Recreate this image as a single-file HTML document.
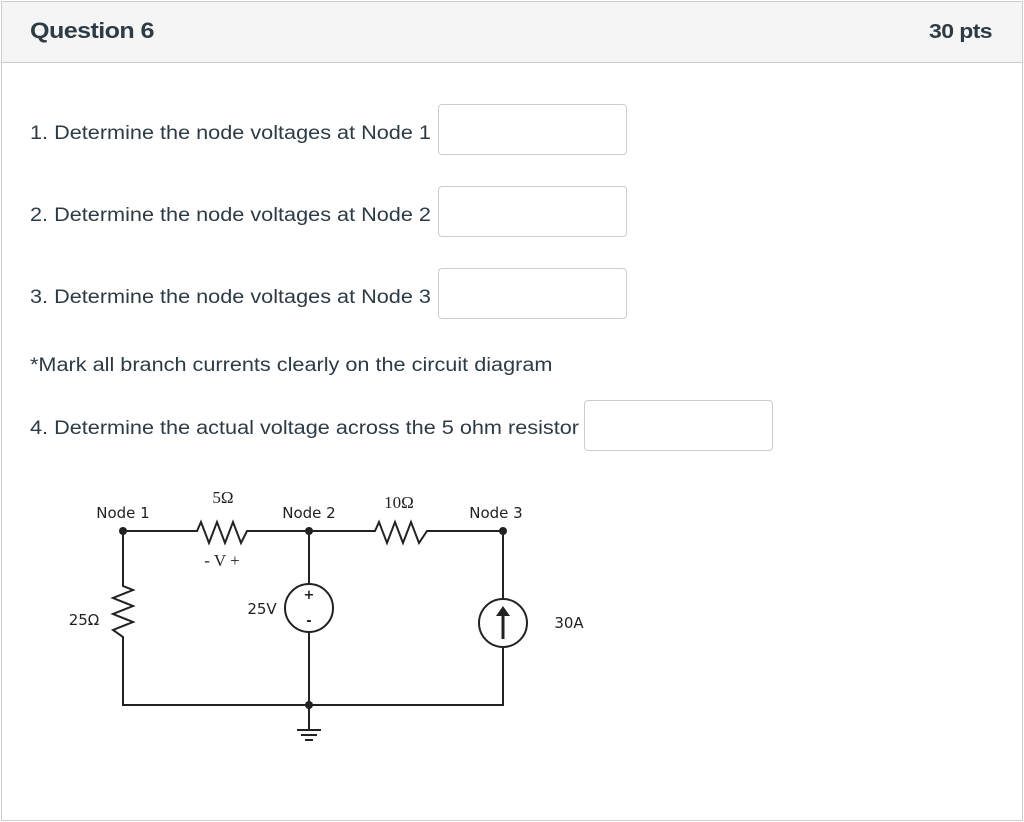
<!DOCTYPE html>
<html><head><meta charset="utf-8"><style>
body{margin:0;background:#fff;font-family:"Liberation Sans",sans-serif;}
.wrap{position:absolute;left:1px;top:1px;width:1020px;height:818px;border:1px solid #c7cdd1;}
.hdr{position:absolute;left:0;top:0;width:1020px;height:60px;background:#f5f5f5;border-bottom:1px solid #c7cdd1;}
.t{position:absolute;color:#2d3b45;white-space:nowrap;transform-origin:0 0;transform:scaleX(1.14);}
.box{position:absolute;border:1px solid #c7cdd1;border-radius:4px;background:#fff;}
</style></head><body>
<div class="wrap">
<div class="hdr"></div>
</div>
<div class="t" style="left:30px;top:18px;font-size:22px;font-weight:bold;letter-spacing:-0.5px">Question 6</div>
<div class="t" style="left:929px;top:21px;font-size:20px;font-weight:bold;letter-spacing:-0.5px;transform:scaleX(1.15)">30 pts</div>
<div class="t" style="left:30px;top:123px;font-size:19px">1. Determine the node voltages at Node 1</div>
<div class="box" style="left:438px;top:104px;width:187px;height:49px"></div>
<div class="t" style="left:30px;top:205px;font-size:19px">2. Determine the node voltages at Node 2</div>
<div class="box" style="left:438px;top:186px;width:187px;height:49px"></div>
<div class="t" style="left:30px;top:287px;font-size:19px">3. Determine the node voltages at Node 3</div>
<div class="box" style="left:438px;top:268px;width:187px;height:49px"></div>
<div class="t" style="left:30px;top:355px;font-size:19px">*Mark all branch currents clearly on the circuit diagram</div>
<div class="t" style="left:30px;top:418px;font-size:19px">4. Determine the actual voltage across the 5 ohm resistor</div>
<div class="box" style="left:584px;top:400px;width:187px;height:49px"></div>
<svg style="position:absolute;left:0;top:0" width="1024" height="822">
<g stroke="#222" stroke-width="2" fill="none">
<polyline points="123,531 197,531 201,522 209,543 217,522 225,543 233,522 241,543 247,531 375,531 379,522 387,543 395,522 403,543 411,522 419,543 427,531 503,531 503,599"/>
<polyline points="123,531 123,586 133,590 113,598 133,606 113,614 133,622 113,630 123,637 123,705 503,705 503,647"/>
<line x1="309" y1="531" x2="309" y2="584"/><line x1="309" y1="632" x2="309" y2="730"/>
<circle cx="309" cy="608" r="24"/><circle cx="503" cy="623" r="24"/>
<line x1="503" y1="639" x2="503" y2="612" stroke-width="3"/>
<line x1="297" y1="730" x2="321" y2="730"/><line x1="301" y1="735" x2="317" y2="735"/><line x1="305" y1="740" x2="313" y2="740"/>
</g>
<polygon points="503,606 496,616 510,616" fill="#222"/>
<g fill="#222"><circle cx="123" cy="531" r="4"/><circle cx="309" cy="531" r="4"/><circle cx="503" cy="531" r="4"/><circle cx="309" cy="705" r="4"/></g>
<g font-family="DejaVu Sans, sans-serif" font-size="15" fill="#222" text-anchor="middle">
<text x="123" y="518">Node 1</text><text x="309" y="518">Node 2</text><text x="496" y="518">Node 3</text>
<text x="84" y="625">25Ω</text><text x="262" y="614">25V</text><text x="569" y="628">30A</text>
<text x="309" y="599" font-size="13" font-weight="bold">+</text><text x="309" y="625" font-size="13" font-weight="bold">-</text>
</g>
<g font-family="Liberation Serif, serif" font-size="17" fill="#222" text-anchor="middle">
<text x="223" y="503">5Ω</text><text x="399" y="508">10Ω</text>
<text x="222" y="566">-  V  +</text>
</g>
</svg>
</body></html>
